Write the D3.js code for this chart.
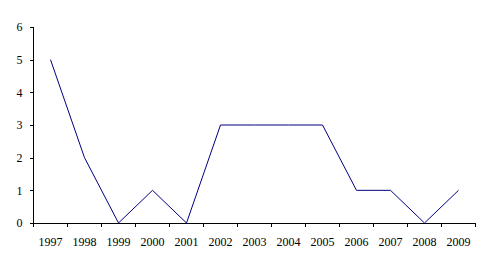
<!DOCTYPE html>
<html><head><meta charset="utf-8">
<script src="https://cdn.jsdelivr.net/npm/d3@7"></script>
<style>body{margin:0;background:#fff}svg{display:block}</style>
</head><body>
<script>
const years = ["1997","1998","1999","2000","2001","2002","2003","2004","2005","2006","2007","2008","2009"];
const values = [5,2,0,1,0,3,3,3,3,1,1,0,1];
const yTicks = [0,1,2,3,4,5,6];

const W = 491, H = 269;
const m = {left: 33.5, right: 15.5, top: 27, bottom: 46};
const svg = d3.select("body").append("svg").attr("width", W).attr("height", H);
const x = d3.scaleBand().domain(years).range([m.left, W - m.right]);
const y = d3.scaleLinear().domain([0, 6]).range([H - m.bottom, m.top]);

const font = "'Liberation Serif', 'Times New Roman', serif";

// y axis
const ya = svg.append("g").attr("transform", `translate(${m.left},0)`)
  .call(d3.axisLeft(y).tickValues(yTicks).tickSize(4).tickPadding(7).tickFormat(d3.format("d")));
ya.selectAll("text").attr("font-family", font).attr("font-size", 12).attr("fill", "#000");
ya.selectAll("line,path").attr("stroke", "#000").attr("shape-rendering", "crispEdges");
ya.select("path").attr("d", `M0,${y(0)}V${y(6)}`);

// x axis with ticks at band boundaries
const xa = svg.append("g").attr("transform", `translate(0,${y(0)})`);
xa.append("line").attr("x1", m.left).attr("x2", W - m.right).attr("stroke", "#000").attr("shape-rendering", "crispEdges");
const bounds = years.map(d => x(d)).concat([x(years[years.length-1]) + x.bandwidth()]);
xa.selectAll("line.tk").data(bounds).enter().append("line").attr("class","tk")
  .attr("x1", d => d).attr("x2", d => d).attr("y1", 0).attr("y2", 4).attr("stroke", "#000").attr("shape-rendering", "crispEdges");
xa.selectAll("text").data(years).enter().append("text")
  .attr("x", d => x(d) + x.bandwidth()/2).attr("y", 23)
  .attr("text-anchor", "middle").attr("font-family", font).attr("font-size", 12).attr("fill", "#000")
  .text(d => d);

// line
const line = d3.line().x((d,i) => x(years[i]) + x.bandwidth()/2).y(d => y(d));
svg.append("path").datum(values).attr("d", line).attr("fill", "none").attr("stroke", "#000080").attr("stroke-width", 1);
</script>
</body></html>
